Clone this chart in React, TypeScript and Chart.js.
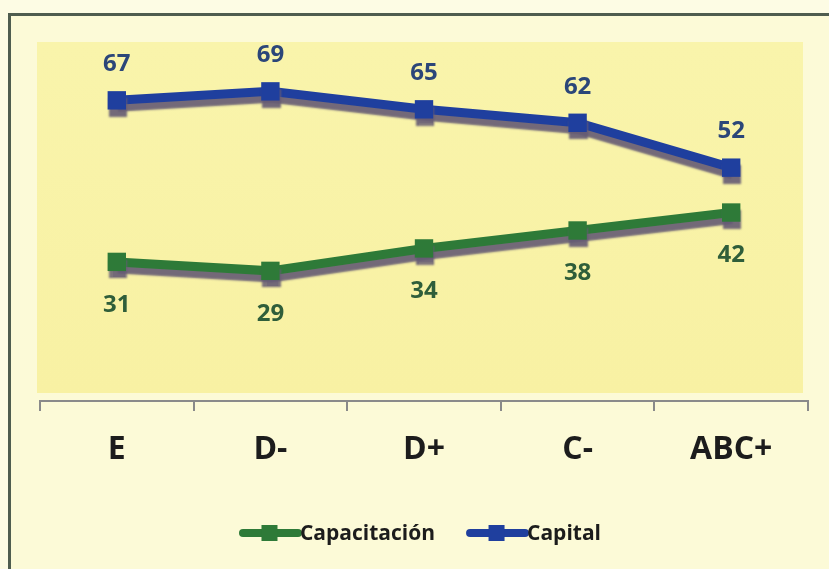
import React, { useEffect, useRef } from "react";
import { Chart, registerables } from "chart.js";

Chart.register(...registerables);

const categories = ["E", "D-", "D+", "C-", "ABC+"];
const capacitacion = [31, 29, 34, 38, 42];
const capital = [67, 69, 65, 62, 52];
const seriesNames = ["Capacitación", "Capital"];
const yMin = 0;
const yMax = 80;

const GREEN = "#2e7a38";
const BLUE = "#1f3f9e";
const GREEN_TEXT = "#2f5e3a";
const BLUE_TEXT = "#2b4679";
const FONT = "'Open Sans', 'DejaVu Sans', sans-serif";

const decorPlugin = {
  id: "decor",
  beforeDraw(chart: any) {
    const { ctx, chartArea } = chart;
    const x0 = chartArea.left - 3;
    const x1 = chartArea.right - 5;
    const y0 = chartArea.top;
    const y1 = chartArea.bottom - 8;
    ctx.save();
    const g = ctx.createLinearGradient(0, y0, 0, y1);
    g.addColorStop(0, "#f9f4ab");
    g.addColorStop(1, "#f8f1a3");
    ctx.fillStyle = g;
    ctx.fillRect(x0, y0, x1 - x0, y1 - y0);
    ctx.restore();
  },
  beforeDatasetsDraw(chart: any) {
    const { ctx } = chart;
    ctx.save();
    ctx.shadowColor = "rgba(100,90,115,0.9)";
    ctx.shadowOffsetX = 1;
    ctx.shadowOffsetY = 7;
    ctx.shadowBlur = 2;
  },
  afterDatasetsDraw(chart: any) {
    const { ctx } = chart;
    ctx.restore();
    // data labels
    ctx.save();
    ctx.font = `bold 24px ${FONT}`;
    ctx.textAlign = "center";
    ctx.textBaseline = "middle";
    chart.data.datasets.forEach((ds: any, di: number) => {
      const meta = chart.getDatasetMeta(di);
      const above = di === 1;
      ctx.fillStyle = above ? BLUE_TEXT : GREEN_TEXT;
      meta.data.forEach((pt: any, i: number) => {
        const y = above ? pt.y - 36 : pt.y + 43;
        ctx.fillText(String(ds.data[i]), pt.x, y);
      });
    });
    ctx.restore();
  },
  afterDraw(chart: any) {
    // legend
    const { ctx, width } = chart;
    ctx.save();
    ctx.font = `bold 21px ${FONT}`;
    ctx.textBaseline = "middle";
    const lineW = 61;
    const gap = 31;
    const items = chart.data.datasets.map((ds: any) => ({
      label: ds.label,
      color: ds.borderColor,
      w: lineW + ctx.measureText(ds.label).width,
    }));
    const total = items.reduce((s: number, it: any) => s + it.w, 0) + gap * (items.length - 1);
    let x = width / 2 - total / 2;
    const y = 517;
    items.forEach((it: any) => {
      ctx.strokeStyle = it.color;
      ctx.lineWidth = 8;
      ctx.lineCap = "round";
      ctx.beginPath();
      ctx.moveTo(x + 4, y);
      ctx.lineTo(x + lineW - 2, y);
      ctx.stroke();
      ctx.fillStyle = it.color;
      ctx.fillRect(x + lineW / 2 - 8, y - 8, 16, 16);
      ctx.fillStyle = "#1c1c1c";
      ctx.textAlign = "left";
      ctx.fillText(it.label, x + lineW, y + 1);
      x += it.w + gap;
    });
    ctx.restore();
  },
};

export default function App() {
  const ref = useRef<HTMLCanvasElement | null>(null);

  useEffect(() => {
    document.documentElement.style.background = "#fdfce4";
    document.body.style.overflow = "hidden";
    const canvas = ref.current;
    if (!canvas) return;
    const chart = new Chart(canvas, {
      type: "line",
      data: {
        labels: categories,
        datasets: [
          {
            label: seriesNames[0],
            data: capacitacion,
            borderColor: GREEN,
            backgroundColor: GREEN,
            borderWidth: 9,
            pointStyle: "rect",
            pointRadius: 13,
            pointBorderWidth: 0,
            tension: 0,
          },
          {
            label: seriesNames[1],
            data: capital,
            borderColor: BLUE,
            backgroundColor: BLUE,
            borderWidth: 9,
            pointStyle: "rect",
            pointRadius: 13,
            pointBorderWidth: 0,
            tension: 0,
          },
        ],
      },
      options: {
        animation: false,
        responsive: false,
        maintainAspectRatio: false,
        layout: { padding: { left: 29, right: 21, top: 26, bottom: 0 } },
        plugins: {
          legend: { display: false },
          tooltip: { enabled: false },
        },
        scales: {
          y: { display: false, min: yMin, max: yMax },
          x: {
            offset: true,
            afterFit(scale: any) {
              scale.height = 553 - 385;
            },
            grid: {
              display: true,
              offset: true,
              drawOnChartArea: false,
              drawTicks: true,
              tickLength: 10,
              color: "#8a8a8a",
              lineWidth: 2,
            },
            border: { display: true, color: "#8a8a8a", width: 2 },
            ticks: {
              color: "#1c1c1c",
              padding: 20,
              font: { family: FONT, size: 32, weight: "bold" },
            },
          },
        },
      },
      plugins: [decorPlugin],
    });
    return () => chart.destroy();
  }, []);

  return (
    <div
      style={{
        position: "fixed",
        left: 8,
        top: 13,
        width: 821,
        height: 556,
        boxSizing: "border-box",
        borderTop: "3px solid #4f5d4f",
        borderLeft: "3px solid #4f5d4f",
        background: "#fcfad7",
      }}
    >
      <canvas ref={ref} width={818} height={553} style={{ display: "block" }} />
    </div>
  );
}
